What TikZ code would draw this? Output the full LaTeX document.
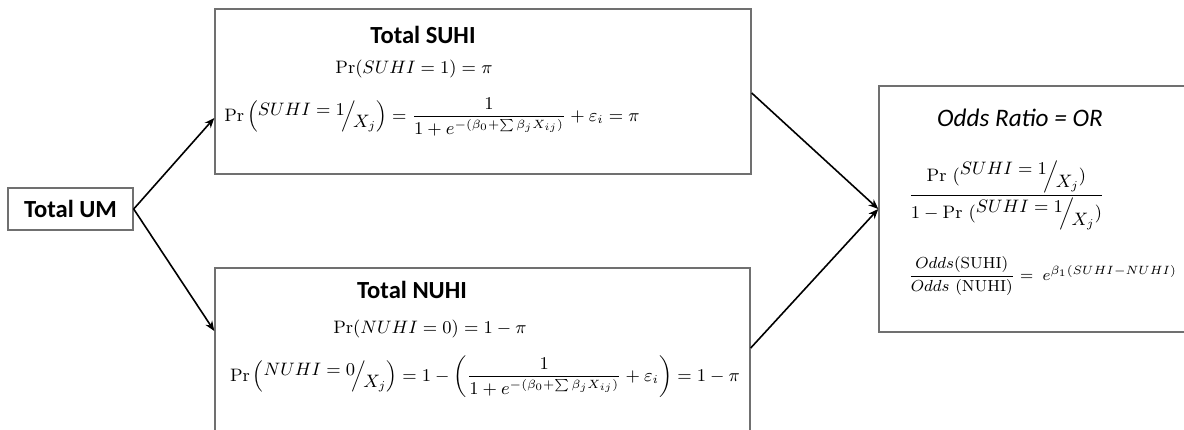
\documentclass[tikz,border=0pt]{standalone}
\usepackage{amsmath,amssymb}
\usepackage[no-math]{fontspec}
\newfontfamily\calibfont{Carlito}
\usetikzlibrary{arrows.meta,positioning}
\definecolor{boxgray}{RGB}{112,112,112}

% raised numerator, slash, lowered denominator
\newcommand{\slashfrac}[2]{\raisebox{0.8ex}{$#1$}\!\Big/\!\raisebox{-0.8ex}{$#2$}}

\begin{document}
\begin{tikzpicture}[x=0.5pt, y=-0.5pt,
    box/.style={draw=boxgray, line width=0.7pt, fill=white, inner sep=0pt},
    title/.style={font=\calibfont\bfseries\fontsize{12.3}{14}\selectfont},
    eqn/.style={font=\fontsize{9.2}{11}\selectfont, inner sep=0pt},
    bigeqn/.style={font=\fontsize{8.7}{10}\selectfont, inner sep=0pt},
    link/.style={-{Stealth[length=5pt, width=4pt]}, line width=0.8pt}]

    % Frame
    \useasboundingbox (0,0) rectangle (1184,429);
    \clip (0,0) rectangle (1184,429);

    % Boxes
    \node[box, title, minimum width=62.5pt, minimum height=21pt] (um) at (70.5,209) {Total UM};
    \node[box, minimum width=268pt, minimum height=82.5pt] (suhi) at (483,91.5) {};
    \node[box, minimum width=267.5pt, minimum height=88pt] (nuhi) at (482.5,356) {};
    \node[box, minimum width=160pt, minimum height=123pt] (orbox) at (1039,209) {};

    % SUHI texts
    \node[title] (suhititle) at (423,35) {Total SUHI};
    \node[eqn, anchor=base] (suhipr) at (414,73) {$\Pr(SUHI=1)=\pi$};
    \node[bigeqn, anchor=base] (suhilogit) at (432,121) {$\Pr\left(\slashfrac{SUHI=1}{X_j}\right)=\dfrac{1}{1+e^{-(\beta_0+\sum\beta_jX_{ij})}}+\varepsilon_i=\pi$};

    % NUHI texts
    \node[title] (nuhititle) at (412,290) {Total NUHI};
    \node[eqn, anchor=base] (nuhipr) at (430,333) {$\Pr(NUHI=0)=1-\pi$};
    \node[bigeqn, anchor=base] (nuhilogit) at (485,381) {$\Pr\left(\slashfrac{NUHI=0}{X_j}\right)=1-\left(\dfrac{1}{1+e^{-(\beta_0+\sum\beta_jX_{ij})}}+\varepsilon_i\right)=1-\pi$};

    % Odds ratio texts
    \node[font=\calibfont\itshape\fontsize{12.6}{14}\selectfont, anchor=base] (ortitle) at (1020,126) {Odds Ratio = OR};
    \node[eqn, font=\fontsize{9}{11}\selectfont, anchor=base west] (orfrac) at (908,200) {$\dfrac{\Pr\ (\slashfrac{SUHI=1}{X_j})}{1-\Pr\ (\slashfrac{SUHI=1}{X_j})}$};
    \node[eqn, font=\fontsize{8.5}{10}\selectfont, anchor=base west] (oddsfrac) at (908,280) {$\dfrac{Odds(\mathrm{SUHI})}{Odds\ (\mathrm{NUHI})}=\;e^{\beta_1(SUHI-NUHI)}$};

    % Connectors
    \draw[link] (um.east) -- ([yshift=-13.25pt]suhi.west);
    \draw[link] (um.east) -- ([yshift=12.5pt]nuhi.west);
    \draw[link] ([yshift=-0.75pt]suhi.east) -- (orbox.west);
    \draw[link] ([yshift=4pt]nuhi.east) -- (orbox.west);
\end{tikzpicture}
\end{document}
